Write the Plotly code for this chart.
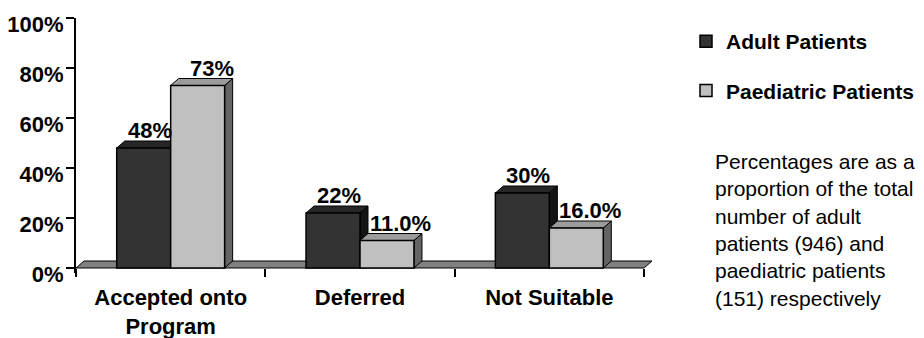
import plotly.graph_objects as go

# ---- data ----
categories = ["Accepted onto<br>Program", "Deferred", "Not Suitable"]
adult_pct = [48, 22, 30]
paed_pct = [73, 11.0, 16.0]
adult_decimals = [0, 0, 0]
paed_decimals = [0, 1, 1]
series_names = ["Adult Patients", "Paediatric Patients"]
y_ticks = [0, 20, 40, 60, 80, 100]
y_tick_text = [f"{v}%" for v in y_ticks]
note_lines = [
    "Percentages are as a",
    "proportion of the total",
    "number of adult",
    "patients (946) and",
    "paediatric patients",
    "(151) respectively",
]

# ---- styling / geometry ----
W, H = 924, 338
M_L, M_R, M_T, M_B = 76, 271, 18, 65
FONT = "Liberation Sans, Arial, sans-serif"
FS = 22
LEG_FS = 21
NOTE_FS = 21
Y_MIN, Y_MAX = -2, 100
PX_PER_CAT = 568 / 3.0
plot_w = W - M_L - M_R
plot_h = H - M_T - M_B
X_MIN = -0.5
X_MAX = X_MIN + plot_w / PX_PER_CAT
PX_PER_Y = plot_h / (Y_MAX - Y_MIN)

DEPTH_X = 8 / PX_PER_CAT      # 3-D depth offset in x units
DEPTH_Y = 7 / PX_PER_Y        # 3-D depth offset in y units

BARGAP = 0.43
BW = (1 - BARGAP) / 2         # width of one bar in category units

front = ["#333333", "#C0C0C0"]
top = ["#262626", "#9C9C9C"]
side = ["#141414", "#646464"]
floor_col = "#808080"

fig = go.Figure()
for k, (name, vals) in enumerate(zip(series_names, [adult_pct, paed_pct])):
    fig.add_trace(go.Bar(
        x=categories, y=vals, name=name, legendgroup=name,
        marker=dict(color=front[k], line=dict(color="black", width=1.5)),
        hoverinfo="skip",
    ))


def poly(pts):
    return "M " + " L ".join(f"{x},{y}" for x, y in pts) + " Z"


shapes = []
# floor of the 3-D box
n = len(categories)
fx0, fx1 = -0.5, n - 0.5
shapes.append(dict(
    type="path", xref="x", yref="y", layer="below",
    path=poly([(fx0, 0), (fx0 + DEPTH_X, DEPTH_Y), (fx1 + DEPTH_X, DEPTH_Y), (fx1, 0)]),
    fillcolor=floor_col, line=dict(color="black", width=1),
))

# top and side faces of every bar
for k, vals in enumerate([adult_pct, paed_pct]):
    for i, v in enumerate(vals):
        x0 = i - BW + k * BW
        x1 = x0 + BW
        shapes.append(dict(
            type="path", xref="x", yref="y", layer="below",
            path=poly([(x1, 0), (x1, v), (x1 + DEPTH_X, v + DEPTH_Y), (x1 + DEPTH_X, DEPTH_Y)]),
            fillcolor=side[k], line=dict(color="black", width=1),
        ))
        shapes.append(dict(
            type="path", xref="x", yref="y", layer="below",
            path=poly([(x0, v), (x0 + DEPTH_X, v + DEPTH_Y), (x1 + DEPTH_X, v + DEPTH_Y), (x1, v)]),
            fillcolor=top[k], line=dict(color="black", width=1),
        ))

# value labels
annotations = []
for k, (vals, decs) in enumerate([(adult_pct, adult_decimals), (paed_pct, paed_decimals)]):
    for i, (v, d) in enumerate(zip(vals, decs)):
        xc = i - BW / 2 + k * BW
        annotations.append(dict(
            x=xc, y=v, xref="x", yref="y", text=f"{v:.{d}f}%",
            showarrow=False, xanchor="center", yanchor="bottom",
            xshift=6 if k == 0 else 14, yshift=3,
            font=dict(family=FONT, size=FS, color="black", weight="bold"),
        ))

# explanatory note
annotations.append(dict(
    x=(713 - M_L) / plot_w, y=1 - (148 - M_T) / plot_h, xref="paper", yref="paper",
    text="<br>".join(note_lines), showarrow=False, align="left",
    xanchor="left", yanchor="top",
    font=dict(family=FONT, size=NOTE_FS, color="black"),
))

fig.update_layout(
    width=W, height=H, autosize=False,
    margin=dict(l=M_L, r=M_R, t=M_T, b=M_B, pad=0, autoexpand=False),
    paper_bgcolor="white", plot_bgcolor="white",
    barmode="group", bargap=BARGAP, bargroupgap=0,
    font=dict(family=FONT, size=FS, color="black"),
    shapes=shapes, annotations=annotations,
    showlegend=True,
    legend=dict(
        x=(686 - M_L) / plot_w, y=1 - (21 - M_T) / plot_h,
        xanchor="left", yanchor="top",
        font=dict(family=FONT, size=LEG_FS, color="black", weight="bold"),
        tracegroupgap=19, bgcolor="rgba(0,0,0,0)",
    ),
    xaxis=dict(
        type="category", range=[X_MIN, X_MAX], automargin=False,
        anchor="free", position=(0 - Y_MIN) / (Y_MAX - Y_MIN),
        tickson="boundaries", ticks="outside", ticklen=8, tickwidth=1.5,
        tickcolor="black", showline=False, showgrid=False, zeroline=False,
        tickfont=dict(family=FONT, size=FS, color="black", weight="bold"),
        ticklabelstandoff=14,
    ),
    yaxis=dict(
        range=[Y_MIN, Y_MAX], tickvals=y_ticks, ticktext=y_tick_text,
        automargin=False,
        ticks="outside", ticklen=8, tickwidth=1.5, tickcolor="black",
        showline=True, linecolor="black", linewidth=2,
        showgrid=False, zeroline=False,
        tickfont=dict(family=FONT, size=FS, color="black", weight="bold"),
        ticklabelshift=6, ticklabelstandoff=-2,
    ),
)

fig.write_html("out.html")
